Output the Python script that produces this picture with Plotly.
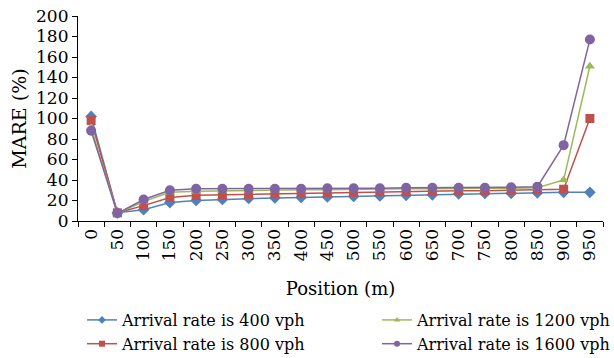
import plotly.graph_objects as go

positions = ["0", "50", "100", "150", "200", "250", "300", "350", "400", "450",
             "500", "550", "600", "650", "700", "750", "800", "850", "900", "950"]

mare_400 = [102, 8, 11, 18, 20, 21, 22, 22.5, 23, 23.5,
            24, 24.5, 25, 25.5, 26.5, 27, 27, 27.5, 28, 28]
mare_800 = [98, 8, 15, 23, 25, 25.5, 26, 26.5, 27, 27.5,
            28, 28.5, 28.5, 29, 29.5, 29.5, 30, 30.5, 31, 100]
mare_1200 = [91, 7.5, 19, 28, 29, 29.5, 30, 30, 30.5, 30.5,
             31, 31, 31.5, 31.5, 32, 32, 32, 32.5, 40, 151]
mare_1600 = [88, 7.5, 21, 30, 31.5, 31.5, 31.5, 31.5, 31.5, 32,
             32, 32, 32.5, 32.5, 32.5, 32.5, 33, 33.5, 74, 177]

# name, values, colour, marker symbol, marker size, legend column
series = [
    ("Arrival rate is 400 vph", mare_400, "#4f81bd", "diamond", 9, "legend"),
    ("Arrival rate is 800 vph", mare_800, "#c0504d", "square", 9, "legend"),
    ("Arrival rate is 1200 vph", mare_1200, "#9bbb59", "triangle-up", 9, "legend2"),
    ("Arrival rate is 1600 vph", mare_1600, "#8064a2", "circle", 10, "legend2"),
]

font_family = "DejaVu Serif"

fig = go.Figure()
for name, vals, color, symbol, size, leg in series:
    fig.add_trace(go.Scatter(
        x=positions, y=vals, name=name, mode="lines+markers",
        line=dict(color=color, width=1.5),
        marker=dict(symbol=symbol, size=size, color=color),
        showlegend=False,
    ))
    # legend-only entry with a smaller key marker
    fig.add_trace(go.Scatter(
        x=[None], y=[None], name=name, mode="lines+markers",
        line=dict(color=color, width=1.5),
        marker=dict(symbol=symbol, size=6, color=color),
        legend=leg,
    ))

axis_common = dict(
    showline=True, linecolor="black", linewidth=1.2,
    ticks="outside", tickcolor="black", ticklen=5, tickwidth=1,
    showgrid=False, zeroline=False, automargin=True,
    tickfont=dict(family=font_family, size=17, color="black"),
)

fig.update_xaxes(
    type="category", tickson="boundaries", tickangle=-90,
    title=dict(text="Position (m)", font=dict(family=font_family, size=18, color="black"), standoff=22),
    range=[-0.5, 19.5],
    **axis_common,
)
fig.update_yaxes(range=[0, 200], dtick=20, **axis_common)

# y-axis title placed beside the tick labels
fig.add_annotation(
    text="MARE (%)", textangle=-90, showarrow=False,
    xref="paper", yref="paper", x=-0.114, y=0.5,
    xanchor="center", yanchor="middle",
    font=dict(family=font_family, size=19, color="black"),
)

legend_common = dict(
    orientation="v", xanchor="left", yanchor="top",
    xref="container", yref="container",
    font=dict(family=font_family, size=16, color="black"),
    tracegroupgap=0, itemwidth=30, bgcolor="rgba(0,0,0,0)",
)

fig.update_layout(
    width=614, height=358,
    margin=dict(l=78, r=11, t=16, b=137, autoexpand=False),
    paper_bgcolor="white", plot_bgcolor="white",
    showlegend=True,
    legend=dict(x=82 / 614, y=1 - 303 / 358, **legend_common),
    legend2=dict(x=377 / 614, y=1 - 303 / 358, **legend_common),
)

fig.write_html("out.html")
